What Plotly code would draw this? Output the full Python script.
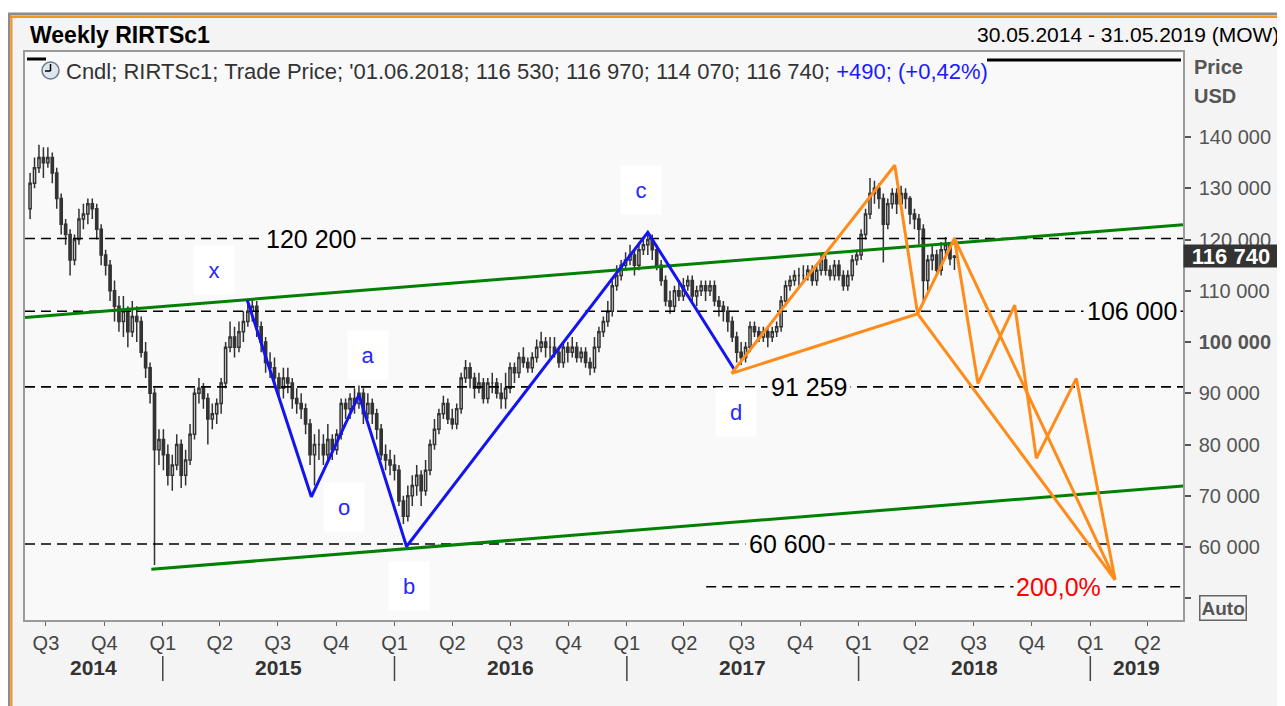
import pandas as pd
import plotly.graph_objects as go

# ---------------- data (thousands of points, weekly candles, weeks ending Friday) ----------------
close_2014 = [131, 134, 136, 135, 136, 133, 128, 123, 121, 116, 120, 124, 125,
              127, 126, 122, 117, 115, 110, 107, 104, 106, 102, 105, 104, 98,
              95, 90, 79, 81]
high_2014 = [133, 136, 138.5, 138, 138, 137, 134, 129, 124, 122, 121, 126, 127,
             128, 128, 127, 123, 118, 116, 112, 109, 109, 107, 108, 107, 105,
             100, 96, 91, 83]
low_2014 = [124, 130, 133, 132, 134, 131, 126, 121, 119, 113, 115, 119, 122,
            123, 124, 120, 115, 113, 108, 104, 102, 101, 99, 101, 100, 97,
            93, 88, 56.5, 76]

close_2015 = [78, 74, 76, 80, 74, 77, 82, 90, 91, 89, 85, 86, 88, 92, 99, 101, 99,
              102, 104, 106, 107, 103, 100, 96, 95, 93, 91, 93, 92, 89, 88,
              87, 84, 78, 80, 80, 78, 81, 79, 82, 88, 87, 89, 88, 90, 86, 88, 86,
              83, 78, 77, 76]
high_2015 = [83, 80, 78, 82, 81, 79, 84, 91, 93, 92, 90, 88, 89, 93, 100, 104, 103,
             104, 106, 108, 108.5, 108, 104, 101, 98, 97, 94, 95, 95, 93, 91,
             90, 88, 85, 82, 83, 82, 84, 82, 83, 89, 89, 90, 91, 91.5, 91, 90, 89,
             87, 84, 80, 79]
low_2015 = [75, 72, 71, 75, 71.5, 72, 76, 81, 88, 87, 80, 83, 84, 86, 91, 98, 97,
            98, 100, 103, 104, 101, 98, 94, 93, 91, 89, 89, 90, 87, 86,
            85, 82, 76, 72, 77, 76, 77, 77, 78, 81, 85, 85, 86, 87, 84, 85, 84,
            81, 77, 75, 74]

close_2016 = [75, 69, 66, 70, 72, 74, 71, 75, 80, 83, 86, 88, 85, 84, 87, 93, 95, 93,
              91, 92, 89, 92, 92, 90, 89, 91, 95, 94, 97, 96, 95, 97, 99, 100, 99,
              99, 98, 96, 99, 98, 99, 97, 98, 96, 95, 99, 102, 104,
              106, 111, 113, 115, 116]
high_2016 = [78, 76, 70, 72, 74, 76, 75, 77, 81, 85, 87, 89.5, 89, 87, 88, 94, 96.5, 96,
             94, 94, 93, 93, 94, 93, 92, 94, 96, 96, 98, 99, 97, 98, 100.5, 102, 101,
             101, 101, 99, 100, 100, 101, 100, 99, 99, 97, 101, 103, 105,
             108, 112, 115, 116, 117.5]
low_2016 = [73, 68, 64.5, 65, 68, 70, 68, 70, 74, 79, 82, 85, 84, 83, 83, 86, 92, 91,
            89, 90, 88, 88, 90, 89, 87, 87, 90, 92, 93, 95, 94, 94, 96, 98, 97,
            97, 97, 95, 95, 96, 97, 96, 96, 95, 93.5, 94, 98, 101,
            103, 105, 110, 112, 114]

close_2017 = [117, 115, 118, 119, 120, 118, 115, 112, 108, 107, 110, 109, 111,
              112, 109, 110, 111, 110, 111, 108, 107, 106, 104, 101, 98, 97,
              99, 103, 102, 101, 102, 101, 102, 103, 108, 111, 112, 113, 113,
              113, 114, 112, 114, 116, 114, 113, 115, 113, 111, 113, 116, 117]
high_2017 = [119, 118, 119.5, 120.5, 121, 121, 119, 116, 113, 110, 111, 112, 112.5,
             113, 113, 111, 112, 112, 112, 112, 109, 108, 107, 105, 102, 100,
             100, 104, 104, 103, 103, 103, 103, 104, 109, 112, 113, 114, 114.5,
             115, 115, 115, 115, 117, 117, 115, 116, 116, 114, 114, 117, 118]
low_2017 = [115, 113, 114, 117, 117, 116, 114, 111, 107, 105.5, 106, 108, 108,
            110, 108, 107, 109, 108, 109, 107, 105, 104, 102, 100, 96, 95.5,
            96, 98, 101, 100, 100, 99, 100, 101, 102, 107, 110, 111, 111,
            112, 112, 111, 111, 113, 113, 112, 112, 112, 110, 110, 112, 115]

close_2018 = [121, 125, 129, 130, 128, 123, 127, 129, 127, 129, 128, 125, 124,
              122, 112, 116, 117, 114, 118, 119, 116.25, 116.74]
high_2018 = [122, 126, 132, 131.5, 131, 129, 128, 130, 130, 130.5, 130, 128.5, 126,
             125, 123, 117, 119, 118, 119.5, 120.5, 119.5, 116.97]
low_2018 = [116, 120, 124, 127, 126, 115.5, 122, 126, 125, 126, 126, 123, 122,
            119, 108, 110, 114, 113, 113, 117, 115, 114.07]

FIRST_OPEN_K = 126
LAST_DATE = "2018-06-01"
LAST_OPEN = 116530
LAST_HIGH = 116970
LAST_LOW = 114070
LAST_CLOSE = 116740
LAST_CHANGE = 490
LAST_CHANGE_PCT = "+0,42%"

# horizontal levels
level_values = [120200, 106000, 91259, 60600]
level_labels = ["120 200", "106 000", "91 259", "60 600"]
level_label_dates = ["2015-08-23", "2019-03-07", "2017-10-15", "2017-09-10"]
ext_level_value = 52250
ext_level_start = "2017-05-06"
ext_level_label = "200,0%"
ext_level_label_date = "2018-11-12"

# blue wave x-o-a-b-c-d
blue_dates = ["2015-05-14", "2015-08-23", "2015-11-06", "2016-01-20", "2017-02-03", "2017-06-20"]
blue_prices = [108200, 69800, 89700, 60100, 121400, 94500]
wave_labels = ["x", "o", "a", "b", "c", "d"]
wave_label_dates = ["2015-03-23", "2015-10-14", "2015-11-21", "2016-01-24", "2017-01-24", "2017-06-22"]
wave_label_prices = [114000, 67800, 97500, 52400, 129700, 86300]

# orange projection paths
orange_main_dates = ["2017-06-15", "2018-02-27", "2018-04-04", "2018-06-01", "2018-07-08",
                     "2018-09-04", "2018-10-08", "2018-12-10", "2019-02-09"]
orange_main_prices = [93900, 134500, 105500, 120200, 91900, 107200, 77300, 92900, 53600]
orange_base_dates = ["2017-06-15", "2018-04-04", "2019-02-09"]
orange_base_prices = [93900, 105500, 53600]
orange_diag_dates = ["2018-06-01", "2019-02-09"]
orange_diag_prices = [120200, 53600]

# green channel
green_upper_dates = ["2014-05-29", "2019-05-27"]
green_upper_prices = [104800, 122900]
green_lower_dates = ["2014-12-14", "2019-05-27"]
green_lower_prices = [55650, 71900]

# axes
X_RANGE = ["2014-05-29", "2019-05-27"]
Y_RANGE = [45760, 156600]
y_tick_vals = [50000, 60000, 70000, 80000, 90000, 100000, 110000, 120000, 130000, 140000]
y_tick_text = ["", "60 000", "70 000", "80 000", "90 000", "<b>100 000</b>",
               "110 000", "120 000", "130 000", "140 000"]
year_labels = ["2014", "2015", "2016", "2017", "2018", "2019"]
year_label_dates = ["2014-09-14", "2015-07-02", "2016-07-02", "2017-07-02", "2018-07-02", "2019-03-14"]
year_sep_dates = ["2015-01-01", "2016-01-01", "2017-01-01", "2018-01-01", "2019-01-01"]

# ---------------- build ----------------
close_k = close_2014 + close_2015 + close_2016 + close_2017 + close_2018
high_k = high_2014 + high_2015 + high_2016 + high_2017 + high_2018
low_k = low_2014 + low_2015 + low_2016 + low_2017 + low_2018
assert len(close_k) == len(high_k) == len(low_k)

closes = [v * 1000 for v in close_k]
highs = [v * 1000 for v in high_k]
lows = [v * 1000 for v in low_k]
opens = [FIRST_OPEN_K * 1000] + closes[:-1]
opens[-1] = LAST_OPEN
dates = pd.date_range(end=LAST_DATE, periods=len(closes), freq="W-FRI")

# page geometry (reference pixel coords); the page body adds an 8px offset
OFF = 8
PAGE_W, PAGE_H = 1285, 706
L, R, T, B = 25, 1183, 52, 620
W, H = PAGE_W - OFF, PAGE_H - OFF
PW, PH = R - L, B - T


def px(x):
    return (x - L) / PW


def py(y):
    return (B - y) / PH


FONT = "Liberation Sans, Arial, sans-serif"
DARK = "#333333"

fig = go.Figure()

fig.add_trace(go.Candlestick(
    x=dates, open=opens, high=highs, low=lows, close=closes,
    increasing=dict(line=dict(color=DARK, width=1.5), fillcolor="#ffffff"),
    decreasing=dict(line=dict(color=DARK, width=1.5), fillcolor=DARK),
    whiskerwidth=0, showlegend=False, hoverinfo="skip"))

# dashed levels
for v in level_values:
    fig.add_trace(go.Scatter(x=X_RANGE, y=[v, v], mode="lines",
                             line=dict(color="#000000", width=1.6, dash="10px,6px"),
                             showlegend=False, hoverinfo="skip"))
fig.add_trace(go.Scatter(x=[ext_level_start, X_RANGE[1]], y=[ext_level_value] * 2, mode="lines",
                         line=dict(color="#000000", width=1.6, dash="10px,6px"),
                         showlegend=False, hoverinfo="skip"))

# green channel
fig.add_trace(go.Scatter(x=green_upper_dates, y=green_upper_prices, mode="lines",
                         line=dict(color="#008000", width=3), showlegend=False, hoverinfo="skip"))
fig.add_trace(go.Scatter(x=green_lower_dates, y=green_lower_prices, mode="lines",
                         line=dict(color="#008000", width=3), showlegend=False, hoverinfo="skip"))

# blue wave
fig.add_trace(go.Scatter(x=blue_dates, y=blue_prices, mode="lines",
                         line=dict(color="#1414f0", width=3), showlegend=False, hoverinfo="skip"))

# orange projections
ORANGE = "#ff8c1a"
for xs, ys in [(orange_base_dates, orange_base_prices),
               (orange_diag_dates, orange_diag_prices),
               (orange_main_dates, orange_main_prices)]:
    fig.add_trace(go.Scatter(x=xs, y=ys, mode="lines",
                             line=dict(color=ORANGE, width=3), showlegend=False, hoverinfo="skip"))

annotations = []
BG = "#f9f9f9"

# level labels
for v, t, d in zip(level_values, level_labels, level_label_dates):
    annotations.append(dict(x=d, y=v, xref="x", yref="y", text=t, showarrow=False,
                            font=dict(family=FONT, size=25, color="#000000"),
                            bgcolor=BG, borderpad=3))
annotations.append(dict(x=ext_level_label_date, y=ext_level_value, xref="x", yref="y",
                        text=ext_level_label, showarrow=False,
                        font=dict(family=FONT, size=25, color="#ff0000"),
                        bgcolor=BG, borderpad=2))

# wave letters
for t, d, v in zip(wave_labels, wave_label_dates, wave_label_prices):
    annotations.append(dict(x=d, y=v, xref="x", yref="y", text=t, showarrow=False,
                            font=dict(family=FONT, size=22, color="#2626ff"),
                            bgcolor="#ffffff", width=40, height=48, borderpad=0))

# header
annotations.append(dict(x=px(28), y=py(35), xref="paper", yref="paper", xanchor="left",
                        yanchor="middle", text="<b>Weekly RIRTSc1</b>", showarrow=False,
                        font=dict(family=FONT, size=23, color="#000000")))
annotations.append(dict(x=px(1281), y=py(35), xref="paper", yref="paper", xanchor="right",
                        yanchor="middle", text="30.05.2014 - 31.05.2019 (MOW)", showarrow=False,
                        font=dict(family=FONT, size=21, color="#000000")))


def fmt(v):
    return f"{v:,}".replace(",", " ")


legend_text = (f"Cndl; RIRTSc1; Trade Price; '{pd.Timestamp(LAST_DATE):%d.%m.%Y}; "
               f"{fmt(LAST_OPEN)}; {fmt(LAST_HIGH)}; {fmt(LAST_LOW)}; {fmt(LAST_CLOSE)}; "
               f"<span style='color:#1a1aff'>+{LAST_CHANGE}; ({LAST_CHANGE_PCT})</span>")
annotations.append(dict(x=px(64), y=py(71), xref="paper", yref="paper", xanchor="left",
                        yanchor="middle", text=legend_text, showarrow=False,
                        font=dict(family=FONT, size=22, color="#333333")))

# right axis header
annotations.append(dict(x=px(1192), y=py(67), xref="paper", yref="paper", xanchor="left",
                        yanchor="middle", text="<b>Price</b>", showarrow=False,
                        font=dict(family=FONT, size=20, color="#555555")))
annotations.append(dict(x=px(1192), y=py(96), xref="paper", yref="paper", xanchor="left",
                        yanchor="middle", text="<b>USD</b>", showarrow=False,
                        font=dict(family=FONT, size=20, color="#555555")))

# last price marker
annotations.append(dict(x=1.0, y=LAST_CLOSE, xref="paper", yref="y", xanchor="left",
                        yanchor="middle", text=f"<b>{fmt(LAST_CLOSE)}</b>", showarrow=False,
                        font=dict(family=FONT, size=22, color="#ffffff"),
                        bgcolor="#333333", width=92, height=20, borderpad=1, align="center"))

# Auto box
annotations.append(dict(x=px(1223), y=py(608), xref="paper", yref="paper", xanchor="center",
                        yanchor="middle", text="<b>Auto</b>", showarrow=False,
                        font=dict(family=FONT, size=19, color="#555555"),
                        bgcolor="#f3f3f3", bordercolor="#666666", borderwidth=1.5, borderpad=1))

# year labels
for t, d in zip(year_labels, year_label_dates):
    annotations.append(dict(x=d, y=py(668), xref="x", yref="paper", text=f"<b>{t}</b>",
                            showarrow=False, yanchor="middle",
                            font=dict(family=FONT, size=21, color="#333333")))

shapes = []
# page decoration
shapes.append(dict(type="rect", xref="paper", yref="paper", x0=px(0), x1=px(PAGE_W), y0=py(13), y1=py(0),
                   fillcolor="#ffffff", line=dict(width=0), layer="below"))
shapes.append(dict(type="line", xref="paper", yref="paper", x0=px(8), x1=px(PAGE_W), y0=py(14), y1=py(14),
                   line=dict(color="#8c8c8c", width=3)))
shapes.append(dict(type="line", xref="paper", yref="paper", x0=px(10), x1=px(PAGE_W), y0=py(17), y1=py(17),
                   line=dict(color="#f7941d", width=2)))
shapes.append(dict(type="line", xref="paper", yref="paper", x0=px(9), x1=px(9), y0=py(13), y1=py(PAGE_H),
                   line=dict(color="#8c8c8c", width=3)))
shapes.append(dict(type="line", xref="paper", yref="paper", x0=px(11.5), x1=px(11.5), y0=py(16), y1=py(PAGE_H),
                   line=dict(color="#f7941d", width=2)))
# black bars at top of plot
shapes.append(dict(type="line", xref="paper", yref="paper", x0=px(987), x1=px(1181), y0=py(60), y1=py(60),
                   line=dict(color="#000000", width=3)))
shapes.append(dict(type="line", xref="paper", yref="paper", x0=px(27), x1=px(46), y0=py(59), y1=py(59),
                   line=dict(color="#000000", width=3)))
# clock icon
shapes.append(dict(type="circle", xref="paper", yref="paper", x0=px(42), x1=px(59), y0=py(79), y1=py(62),
                   fillcolor="#dfe6ee", line=dict(color="#6d7b8a", width=1.5)))
shapes.append(dict(type="line", xref="paper", yref="paper", x0=px(50.5), x1=px(50.5), y0=py(64), y1=py(71),
                   line=dict(color="#000000", width=1.5)))
shapes.append(dict(type="line", xref="paper", yref="paper", x0=px(45), x1=px(50.5), y0=py(71), y1=py(71),
                   line=dict(color="#000000", width=1.5)))
# year separators
for d in year_sep_dates:
    shapes.append(dict(type="line", xref="x", yref="paper", x0=d, x1=d, y0=py(656), y1=py(681),
                       line=dict(color="#444444", width=1.5)))

q_ticks = pd.date_range("2014-07-01", "2019-04-01", freq="QS")
q_text = [f"Q{t.quarter}" for t in q_ticks]

fig.update_layout(
    width=W, height=H,
    margin=dict(l=L - OFF, r=W - (R - OFF), t=T - OFF, b=H - (B - OFF)),
    paper_bgcolor="#f4f4f4", plot_bgcolor=BG,
    showlegend=False,
    annotations=annotations, shapes=shapes,
    xaxis=dict(range=X_RANGE, type="date", rangeslider=dict(visible=False),
               showgrid=False, zeroline=False,
               tickmode="array", tickvals=q_ticks, ticktext=q_text,
               ticks="outside", ticklen=4, tickcolor="#666666", tickwidth=1,
               tickfont=dict(family=FONT, size=20, color="#444444"),
               showline=True, linecolor="#9a9a9a", linewidth=1.5, mirror=True),
    yaxis=dict(range=Y_RANGE, side="right", showgrid=False, zeroline=False,
               tickmode="array", tickvals=y_tick_vals, ticktext=y_tick_text,
               ticks="outside", ticklen=6, tickcolor="#555555", tickwidth=1.5,
               tickfont=dict(family=FONT, size=20, color="#555555"),
               ticklabelstandoff=4,
               showline=True, linecolor="#9a9a9a", linewidth=1.5, mirror=True),
    hovermode=False,
)

fig.write_html("out.html")
